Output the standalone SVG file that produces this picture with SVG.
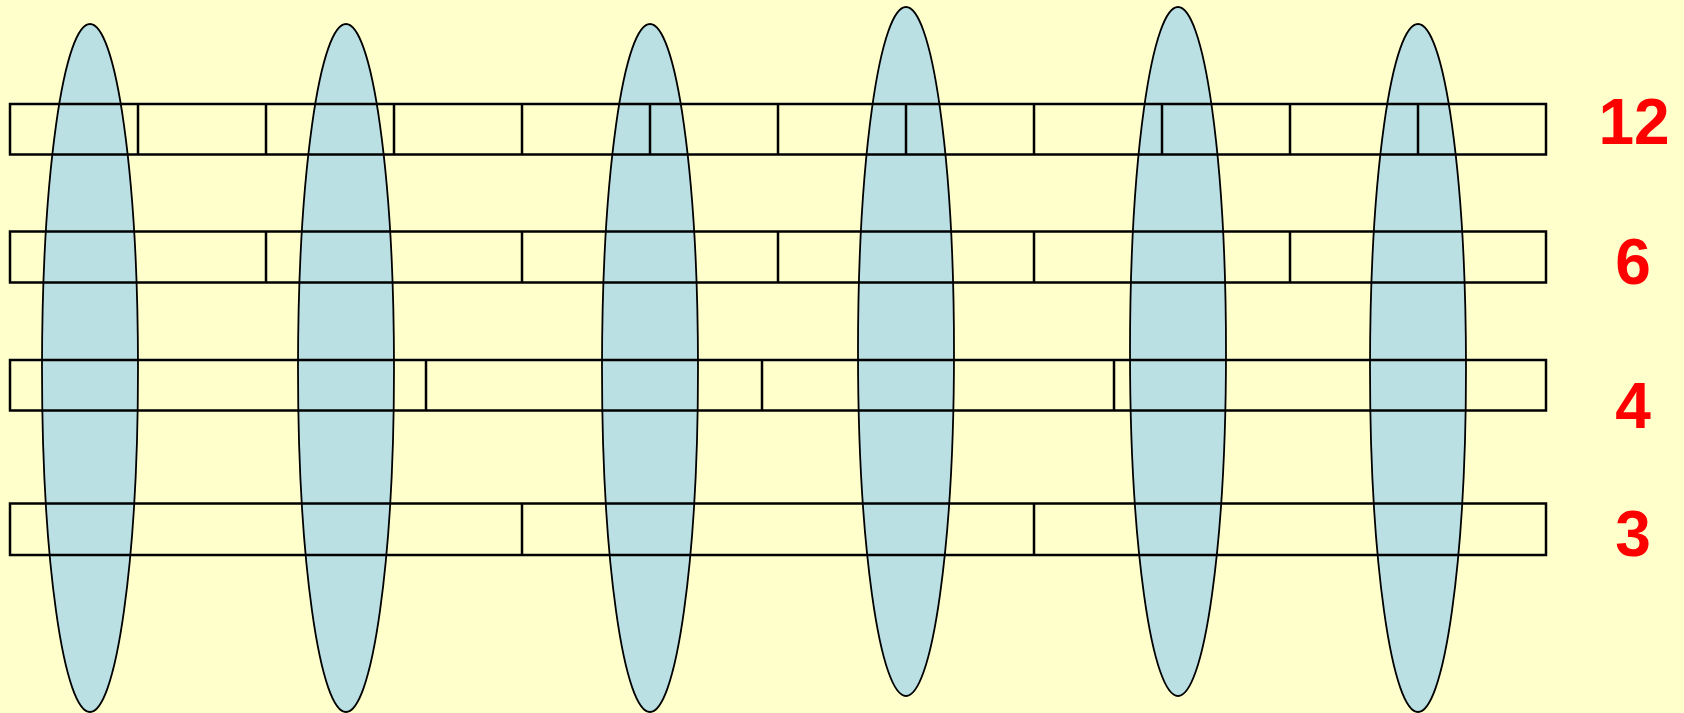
<svg xmlns="http://www.w3.org/2000/svg" width="1684" height="713" viewBox="0 0 1684 713">
<style>
.ell{fill:#BAE0E4;stroke:#000;stroke-width:1.8}
.cell{fill:none;stroke:#000;stroke-width:2.5}
.lbl{fill:#FF0000;font-family:"Liberation Sans",Arial,sans-serif;font-weight:bold;font-size:64px;text-anchor:middle}
</style>
<rect width="1684" height="713" fill="#FFFFCC"/>
<g id="ellipses">
<ellipse id="e1" class="ell" cx="90" cy="368" rx="48" ry="344"/>
<ellipse id="e2" class="ell" cx="346" cy="368" rx="48" ry="344"/>
<ellipse id="e3" class="ell" cx="650" cy="368" rx="48" ry="344"/>
<ellipse id="e4" class="ell" cx="906" cy="351.5" rx="48" ry="344.5"/>
<ellipse id="e5" class="ell" cx="1178" cy="351.5" rx="48" ry="344.5"/>
<ellipse id="e6" class="ell" cx="1418" cy="368" rx="48" ry="344"/>
</g>
<g id="row12">
<rect class="cell" x="10" y="104" width="1536" height="50.5"/>
<path class="cell" d="M138 104V154.5M266 104V154.5M394 104V154.5M522 104V154.5M650 104V154.5M778 104V154.5M906 104V154.5M1034 104V154.5M1162 104V154.5M1290 104V154.5M1418 104V154.5"/>
</g>
<g id="row6">
<rect class="cell" x="10" y="231.5" width="1536" height="51"/>
<path class="cell" d="M266 231.5V282.5M522 231.5V282.5M778 231.5V282.5M1034 231.5V282.5M1290 231.5V282.5"/>
</g>
<g id="row4">
<rect class="cell" x="10" y="360" width="1536" height="50.5"/>
<path class="cell" d="M426 360V410.5M762 360V410.5M1114 360V410.5"/>
</g>
<g id="row3">
<rect class="cell" x="10" y="503.5" width="1536" height="51.5"/>
<path class="cell" d="M522 503.5V555M1034 503.5V555"/>
</g>
<g id="labels">
<text class="lbl" x="1634" y="144">12</text>
<text class="lbl" x="1633" y="284">6</text>
<text class="lbl" x="1633" y="428">4</text>
<text class="lbl" x="1633" y="556">3</text>
</g>
<g id="connectors"/>
</svg>
